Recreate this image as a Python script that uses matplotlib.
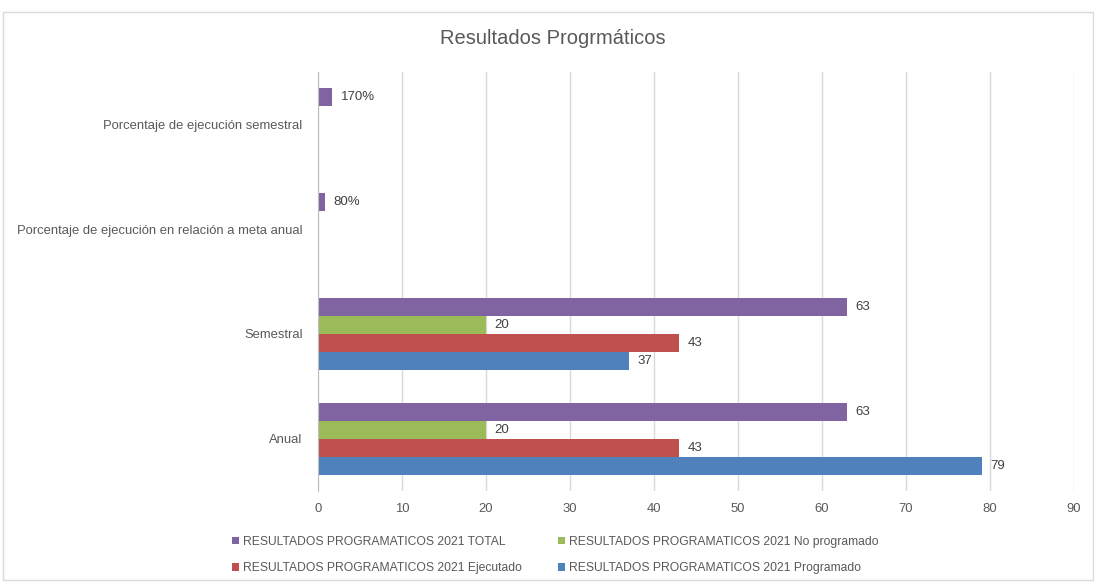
import matplotlib
matplotlib.use("Agg")
import matplotlib.pyplot as plt
from matplotlib.patches import Rectangle
import numpy as np

plt.rcParams['font.family'] = ['Liberation Sans', 'DejaVu Sans']

categories = ["Anual", "Semestral",
              "Porcentaje de ejecución en relación a meta anual",
              "Porcentaje de ejecución semestral"]
programado = [79, 37, None, None]
ejecutado = [43, 43, None, None]
no_programado = [20, 20, None, None]
total = [63, 63, 0.8, 1.7]
total_labels = ["63", "63", "80%", "170%"]
xticks = [0, 10, 20, 30, 40, 50, 60, 70, 80, 90]

series = [
    ("RESULTADOS PROGRAMATICOS 2021 Programado", programado, "#4F81BD", -0.258, None),
    ("RESULTADOS PROGRAMATICOS 2021 Ejecutado", ejecutado, "#C0504D", -0.086, None),
    ("RESULTADOS PROGRAMATICOS 2021 No programado", no_programado, "#9BBB59", 0.086, None),
    ("RESULTADOS PROGRAMATICOS 2021 TOTAL", total, "#8064A2", 0.258, total_labels),
]

fig = plt.figure(figsize=(10.94, 5.82), dpi=100)
ax = fig.add_axes([318/1094, 1-491/582, (1074-318)/1094, (491-72)/582])

txt = "#595959"
h = 0.172
y = np.arange(len(categories))
handles = {}
for name, vals, color, off, labs in series:
    idx = [i for i, v in enumerate(vals) if v is not None]
    v = [vals[i] for i in idx]
    bars = ax.barh(y[idx] + off, v, height=h, color=color, label=name, zorder=3)
    handles[name] = bars
    for k, i in enumerate(idx):
        lab = labs[i] if labs else str(vals[i])
        ax.annotate(lab, (vals[i], y[i] + off), xytext=(6, 0), textcoords="offset points",
                    va="center", ha="left", fontsize=9.5, color="#404040")

ax.set_xlim(0, 90)
ax.set_ylim(-0.5, 3.5)
ax.set_xticks(xticks)
ax.set_yticks(y)
ax.set_yticklabels(categories)
ax.tick_params(axis="both", length=0, labelsize=9.4, colors=txt)
ax.tick_params(axis="y", pad=11)
ax.tick_params(axis="x", pad=9)
ax.grid(axis="x", color="#d9d9d9", linewidth=1, zorder=0)
for s in ["top", "right", "bottom"]:
    ax.spines[s].set_visible(False)
ax.spines["left"].set_color("#bfbfbf")
ax.spines["left"].set_zorder(4)

fig.text(553/1094, 1-39/582, "Resultados Progrmáticos", ha="center", va="center",
         fontsize=14.5, color=txt)

order = ["RESULTADOS PROGRAMATICOS 2021 TOTAL", "RESULTADOS PROGRAMATICOS 2021 Ejecutado",
         "RESULTADOS PROGRAMATICOS 2021 No programado", "RESULTADOS PROGRAMATICOS 2021 Programado"]
leg = fig.legend([handles[o] for o in order], order, ncol=2, loc="center",
                 bbox_to_anchor=(555/1094, 1-555/582), frameon=False, fontsize=8.7,
                 handlelength=0.6, handleheight=0.6, handletextpad=0.3,
                 columnspacing=3.0, labelspacing=1.2)
for t in leg.get_texts():
    t.set_color(txt)

fig.patches.append(Rectangle((3/1094, 2/582), 1 - 4/1094, 1 - 14/582, transform=fig.transFigure,
                             fill=False, edgecolor="#d9d9d9", linewidth=1))

fig.savefig("out.png", dpi=100, facecolor="white")
